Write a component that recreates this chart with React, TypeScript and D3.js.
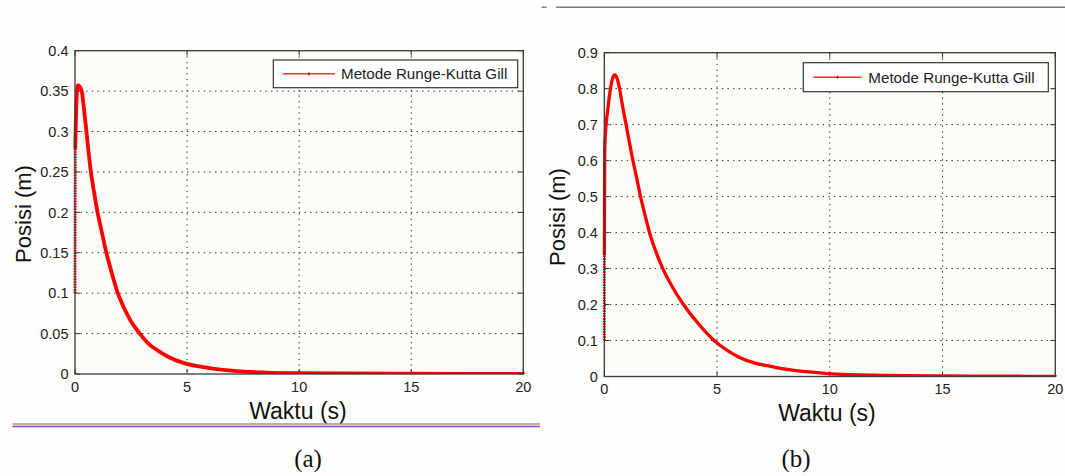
import React from "react";
import * as d3 from "d3";

// ---------- data ----------
// Panel (a)
const aRiseT = [0, 0.003, 0.006, 0.009, 0.012];
const aRiseY = [0.1, 0.145, 0.19, 0.235, 0.28];
const aT = [0.012, 0.04, 0.08, 0.13, 0.2, 0.3, 0.4, 0.51, 0.6, 0.7, 0.85, 1.0, 1.2, 1.4, 1.6, 1.89, 2.2, 2.5, 2.89, 3.3, 3.7, 4.15, 4.9, 5.8, 6.5, 7.5, 8.5, 10, 12, 15, 20];
const aY = [0.28, 0.315, 0.345, 0.357, 0.356, 0.35, 0.328, 0.3, 0.276, 0.252, 0.225, 0.201, 0.175, 0.15, 0.129, 0.1015, 0.081, 0.065, 0.05, 0.037, 0.029, 0.0214, 0.0132, 0.0083, 0.0055, 0.003, 0.0018, 0.001, 0.0006, 0.0003, 0.0001];
const aYTicks = [0, 0.05, 0.1, 0.15, 0.2, 0.25, 0.3, 0.35, 0.4];
const aYTickLabels = ["0", "0.05", "0.1", "0.15", "0.2", "0.25", "0.3", "0.35", "0.4"];

// Panel (b)
const bRiseT = [0, 0.002, 0.004];
const bRiseY = [0.1, 0.22, 0.34];
const bT = [0.004, 0.008, 0.02, 0.08, 0.15, 0.25, 0.35, 0.46, 0.56, 0.68, 0.8, 0.97, 1.1, 1.27, 1.45, 1.61, 1.8, 2.01, 2.3, 2.6, 3.0, 3.48, 4.1, 4.88, 5.4, 6.0, 6.65, 7.48, 8.2, 8.96, 9.9, 11, 12.5, 15, 17.5, 20];
const bY = [0.34, 0.45, 0.63, 0.7, 0.74, 0.79, 0.825, 0.838, 0.83, 0.799, 0.755, 0.699, 0.655, 0.6, 0.548, 0.499, 0.45, 0.399, 0.345, 0.299, 0.251, 0.203, 0.152, 0.0996, 0.075, 0.053, 0.038, 0.027, 0.019, 0.0133, 0.008, 0.005, 0.003, 0.0015, 0.0008, 0.0005];
const bYTicks = [0, 0.1, 0.2, 0.3, 0.4, 0.5, 0.6, 0.7, 0.8, 0.9];
const bYTickLabels = ["0", "0.1", "0.2", "0.3", "0.4", "0.5", "0.6", "0.7", "0.8", "0.9"];

const xTicks = [0, 5, 10, 15, 20];
const xTickLabels = ["0", "5", "10", "15", "20"];
const legendLabel = "Metode Runge-Kutta Gill";
const xLabel = "Waktu (s)";
const yLabel = "Posisi (m)";

const FONT = "'Liberation Sans', Arial, Helvetica, sans-serif";

type PanelProps = {
  x0: number; x1: number; yTop: number; yBot: number; yMax: number;
  riseT: number[]; riseY: number[]; t: number[]; y: number[];
  yTicks: number[]; yTickLabels: string[];
  legend: { x: number; y: number; w: number; h: number; lx0: number; lx1: number; tx: number };
  ylab: { x: number; y: number }; xlab: { x: number; y: number };
  lineW: number;
};

function Panel(p: PanelProps) {
  const xs = d3.scaleLinear().domain([0, 20]).range([p.x0, p.x1]);
  const ys = d3.scaleLinear().domain([0, p.yMax]).range([p.yBot, p.yTop]);
  const line = d3.line<number>().x((_, i) => xs(p.t[i])).y((d) => ys(d)).curve(d3.curveMonotoneX);
  const rise = d3.line<number>().x((_, i) => xs(p.riseT[i])).y((d) => ys(d));
  const tickLen = 5;
  const gridDash = "1.4 4.2";
  const clipId = `clip-${Math.round(p.x0)}`;
  return (
    <g>
      <defs>
        <clipPath id={clipId}>
          <rect x={p.x0 - 3} y={p.yTop - 3} width={p.x1 - p.x0 + 6} height={p.yBot - p.yTop + 3} />
        </clipPath>
      </defs>
      <rect x={p.x0} y={p.yTop} width={p.x1 - p.x0} height={p.yBot - p.yTop} fill="#fcfcf6" />
      {/* grid */}
      {xTicks.slice(1, -1).map((v) => (
        <line key={"gx" + v} x1={xs(v)} x2={xs(v)} y1={p.yTop} y2={p.yBot} stroke="#333" strokeWidth={1} strokeDasharray={gridDash} />
      ))}
      {p.yTicks.slice(1, -1).map((v) => (
        <line key={"gy" + v} x1={p.x0} x2={p.x1} y1={ys(v)} y2={ys(v)} stroke="#333" strokeWidth={1} strokeDasharray={gridDash} />
      ))}
      {/* ticks inward */}
      {xTicks.map((v, i) => (
        <g key={"tx" + v}>
          <line x1={xs(v)} x2={xs(v)} y1={p.yBot} y2={p.yBot - tickLen} stroke="#333" />
          <line x1={xs(v)} x2={xs(v)} y1={p.yTop} y2={p.yTop + tickLen} stroke="#333" />
          <text x={xs(v)} y={p.yBot + 17.5} textAnchor="middle" fontSize={14.5} fill="#222" fontFamily={FONT}>{xTickLabels[i]}</text>
        </g>
      ))}
      {p.yTicks.map((v, i) => (
        <g key={"ty" + v}>
          <line x1={p.x0} x2={p.x0 + tickLen} y1={ys(v)} y2={ys(v)} stroke="#333" />
          <line x1={p.x1} x2={p.x1 - tickLen} y1={ys(v)} y2={ys(v)} stroke="#333" />
          <text x={p.x0 - 6.5} y={ys(v)} dy="0.36em" textAnchor="end" fontSize={14.5} fill="#222" fontFamily={FONT}>{p.yTickLabels[i]}</text>
        </g>
      ))}
      {/* data */}
      <g clipPath={`url(#${clipId})`}>
        <path d={rise(p.riseY) || ""} fill="none" stroke="#ff0000" strokeWidth={3} strokeDasharray="1.6 1" />
        <path d={line(p.y) || ""} fill="none" stroke="#ff0000" strokeWidth={p.lineW} strokeLinejoin="round" strokeLinecap="round" />
      </g>
      {/* box */}
      <rect x={p.x0} y={p.yTop} width={p.x1 - p.x0} height={p.yBot - p.yTop} fill="none" stroke="#3a3a3a" strokeWidth={1.3} />
      {/* legend */}
      <rect x={p.legend.x} y={p.legend.y} width={p.legend.w} height={p.legend.h} fill="#ffffff" stroke="#333" strokeWidth={1.2} />
      <line x1={p.legend.lx0} x2={p.legend.lx1} y1={p.legend.y + p.legend.h / 2} y2={p.legend.y + p.legend.h / 2} stroke="#ff3030" strokeWidth={1.5} />
      <rect x={(p.legend.lx0 + p.legend.lx1) / 2 - 0.75} y={p.legend.y + p.legend.h / 2 - 1.5} width={1.5} height={3} fill="#c00000" />
      <text x={p.legend.tx} y={p.legend.y + p.legend.h / 2 + 5.5} fontSize={15.2} fill="#222" fontFamily={FONT}>{legendLabel}</text>
      {/* axis labels */}
      <text x={p.xlab.x} y={p.xlab.y} textAnchor="middle" fontSize={23} fill="#111" fontFamily={FONT}>{xLabel}</text>
      <text transform={`translate(${p.ylab.x},${p.ylab.y}) rotate(-90)`} textAnchor="middle" fontSize={22} fill="#111" fontFamily={FONT}>{yLabel}</text>
    </g>
  );
}

export default function App() {
  return (
    <svg width={1065} height={476} style={{ position: "absolute", left: 0, top: 0, background: "#ffffff" }}>
      <rect x={0} y={0} width={1065} height={476} fill="#fefefd" />
      {/* top rule */}
      <line x1={541.7} x2={546.7} y1={7.3} y2={7.3} stroke="#7a7a7a" strokeWidth={1.5} />
      <line x1={556} x2={1065} y1={7.3} y2={7.3} stroke="#7a7a7a" strokeWidth={1.5} />
      <Panel
        x0={75} x1={523.3} yTop={50.7} yBot={374} yMax={0.4}
        riseT={aRiseT} riseY={aRiseY} t={aT} y={aY}
        yTicks={aYTicks} yTickLabels={aYTickLabels}
        legend={{ x: 273.3, y: 60, w: 244.4, h: 27.7, lx0: 283, lx1: 335, tx: 341 }}
        ylab={{ x: 31, y: 214 }} xlab={{ x: 298, y: 419 }}
        lineW={3.8}
      />
      <Panel
        x0={604.3} x1={1055.3} yTop={52.7} yBot={376.5} yMax={0.9}
        riseT={bRiseT} riseY={bRiseY} t={bT} y={bY}
        yTicks={bYTicks} yTickLabels={bYTickLabels}
        legend={{ x: 803.3, y: 62.7, w: 245, h: 29, lx0: 813.3, lx1: 861.7, tx: 868.3 }}
        ylab={{ x: 565, y: 217 }} xlab={{ x: 827, y: 421 }}
        lineW={3.3}
      />
      {/* underline of left panel */}
      <line x1={12.5} x2={540} y1={424} y2={424} stroke="#9a9a9a" strokeWidth={1.3} />
      <line x1={12.5} x2={540} y1={426.5} y2={426.5} stroke="#9a3ad8" strokeWidth={1.5} />
      {/* captions */}
      <text x={308} y={467} textAnchor="middle" fontSize={25} fill="#111" fontFamily="'Liberation Serif', 'Times New Roman', serif">(a)</text>
      <text x={796} y={467} textAnchor="middle" fontSize={25} fill="#111" fontFamily="'Liberation Serif', 'Times New Roman', serif">(b)</text>
    </svg>
  );
}
